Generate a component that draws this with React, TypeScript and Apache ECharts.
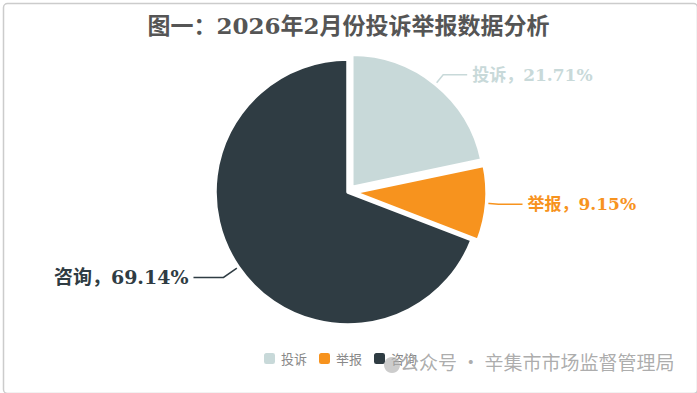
import React, { useEffect, useRef } from "react";
import * as echarts from "echarts";

const TITLE = "图一：2026年2月份投诉举报数据分析";
const categories = ["投诉", "举报", "咨询"];
const values = [21.71, 9.15, 69.14];
const colors = ["#c8d9d9", "#f7931e", "#2f3c43"];
const selectedFlags = [true, true, false];
const labelSizes = [17, 17, 19];
const lineLengths = [12, 12, 18];
const lineLengths2 = [24, 24, 30];
const WATERMARK = "公众号 · 辛集市市场监督管理局";

export default function App() {
  const ref = useRef<HTMLDivElement>(null);
  useEffect(() => {
    if (!ref.current) return;
    const chart = echarts.init(ref.current, undefined, { renderer: "svg" });
    const sans = "'Noto Sans CJK SC', 'Noto Sans', sans-serif";
    const serif = "'DejaVu Serif', 'Noto Sans CJK SC', serif";
    chart.setOption({
      animation: false,
      backgroundColor: "#ffffff",
      title: {
        text: TITLE,
        left: "center",
        top: 9,
        textStyle: { fontFamily: serif, fontSize: 23, fontWeight: "bold", color: "#555555" },
      },
      legend: {
        bottom: 22,
        left: 257,
        itemWidth: 13,
        itemHeight: 13,
        itemGap: 10,
        icon: "roundRect",
        data: categories,
        textStyle: { fontFamily: sans, fontSize: 13, color: "#888888" },
      },
      graphic: [
        {
          type: "rect",
          left: 1,
          top: 1,
          shape: { width: 694, height: 390, r: 4 },
          style: { fill: "none", stroke: "#cccccc", lineWidth: 1.5 },
          silent: true,
        },
        {
          type: "circle",
          left: 384,
          top: 357,
          shape: { r: 8 },
          style: { fill: "#aaaaaa", opacity: 0.6 },
          z: 100,
        },
        {
          type: "text",
          left: 400,
          top: 352,
          style: { text: WATERMARK, fontFamily: sans, fontSize: 19, fill: "#a8a8a8", opacity: 0.95 },
          z: 100,
        },
      ],
      series: [
        {
          type: "pie",
          center: [348, 192],
          radius: 133,
          startAngle: 90,
          clockwise: true,
          selectedMode: "multiple",
          selectedOffset: 6,
          itemStyle: { borderColor: "#ffffff", borderWidth: 3.5 },
          label: {
            show: true,
            formatter: "{b}，{d}%",
            fontFamily: serif,
            fontSize: 17,
            fontWeight: "bold",
          },
          labelLine: { show: true, length: 12, length2: 24, lineStyle: { width: 1.5 } },
          emphasis: { disabled: true },
          data: categories.map((name, i) => ({
            name,
            value: values[i],
            selected: selectedFlags[i],
            itemStyle: { color: colors[i] },
            label: { color: colors[i], fontSize: labelSizes[i] },
            labelLine: {
              length: lineLengths[i],
              length2: lineLengths2[i],
              lineStyle: { color: colors[i] },
            },
          })),
        },
      ],
    });
    return () => chart.dispose();
  }, []);
  return (
    <div
      ref={ref}
      style={{ position: "fixed", left: 0, top: 0, width: 697, height: 393 }}
    />
  );
}
